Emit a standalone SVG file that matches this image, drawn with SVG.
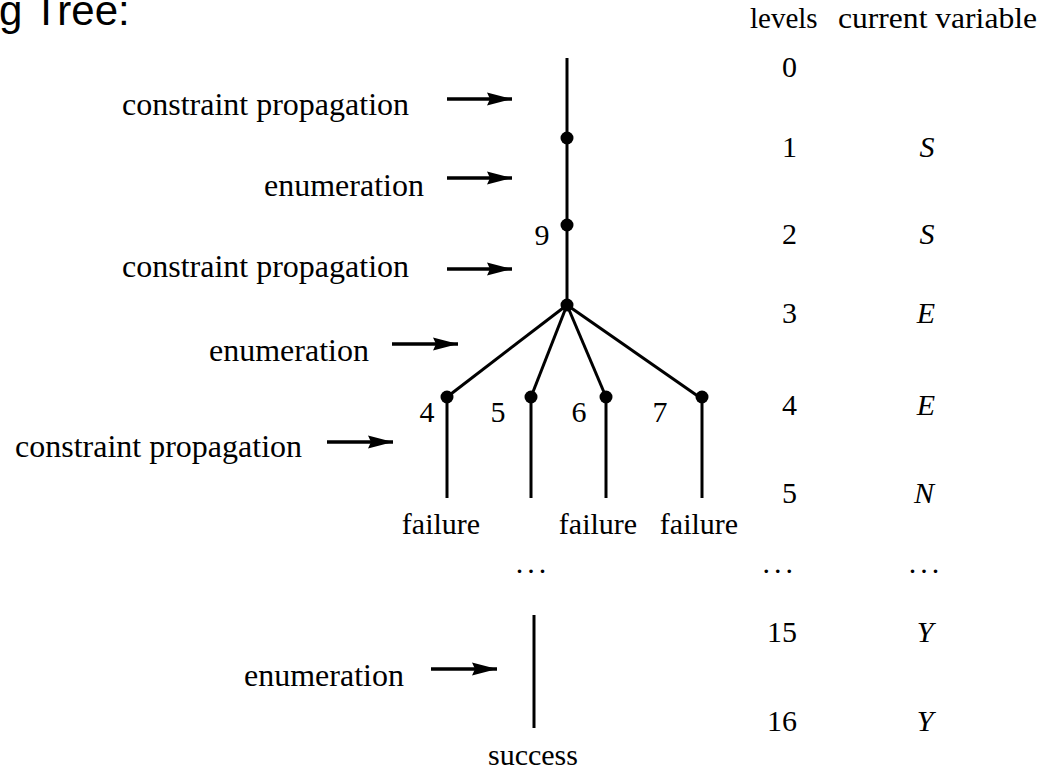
<svg xmlns="http://www.w3.org/2000/svg" width="1043" height="770" viewBox="0 0 1043 770">
<style>
.t{font-family:"Liberation Serif","Times New Roman",serif;fill:#000}
.lbl{font-size:32px}
.s{font-size:30px}
.i{font-size:30px;font-style:italic}
.e{stroke:#000;stroke-width:3;fill:none}
.a{stroke:#000;stroke-width:3.5;fill:none;marker-end:url(#ah)}
.d{fill:#000}
</style>
<defs>
<marker id="ah" markerUnits="userSpaceOnUse" markerWidth="27" markerHeight="16" refX="25" refY="8" orient="auto">
<path d="M0,1.5 L25,8 L0,14.5 L3,8 z" fill="#000"/>
</marker>
</defs>
<rect width="1043" height="770" fill="#fff"/>
<text x="-1" y="25" style="font-family:'Liberation Sans',Arial,sans-serif;font-size:42px">g Tree:</text>

<g id="header">
<text class="t" x="750" y="28" style="font-size:29px">levels</text>
<text class="t" x="838" y="28" textLength="199" lengthAdjust="spacingAndGlyphs" style="font-size:29px">current variable</text>
</g>

<g id="labels">
<text class="t lbl" x="122" y="115">constraint propagation</text>
<text class="t lbl" x="264" y="196">enumeration</text>
<text class="t lbl" x="122" y="277">constraint propagation</text>
<text class="t lbl" x="209" y="361">enumeration</text>
<text class="t lbl" x="15" y="457">constraint propagation</text>
<text class="t lbl" x="244" y="686">enumeration</text>
</g>

<g id="connectors">
<line class="a" x1="447" y1="99" x2="512" y2="99"/>
<line class="a" x1="447" y1="178" x2="512" y2="178"/>
<line class="a" x1="447" y1="269" x2="512" y2="269"/>
<line class="a" x1="392" y1="344" x2="458" y2="344"/>
<line class="a" x1="327" y1="442" x2="393" y2="442"/>
<line class="a" x1="431" y1="669" x2="497" y2="669"/>
<line class="e" x1="567" y1="58" x2="567" y2="305"/>
<line class="e" x1="567" y1="305" x2="447" y2="397"/>
<line class="e" x1="567" y1="305" x2="531" y2="397"/>
<line class="e" x1="567" y1="305" x2="606" y2="397"/>
<line class="e" x1="567" y1="305" x2="702" y2="399"/>
<line class="e" x1="447" y1="397" x2="447" y2="498"/>
<line class="e" x1="531" y1="397" x2="531" y2="498"/>
<line class="e" x1="606" y1="397" x2="606" y2="498"/>
<line class="e" x1="702" y1="397" x2="702" y2="498"/>
<line class="e" x1="534" y1="615" x2="534" y2="728"/>
</g>

<g id="n1"><circle class="d" cx="567" cy="138" r="6.5"/></g>
<g id="n2"><circle class="d" cx="567" cy="225" r="6.5"/><text class="t s" x="542" y="245" text-anchor="middle">9</text></g>
<g id="n3"><circle class="d" cx="567" cy="305" r="6.5"/></g>
<g id="n4"><circle class="d" cx="447" cy="397" r="6.5"/><text class="t s" x="427" y="422" text-anchor="middle">4</text><text class="t s" x="441" y="534" text-anchor="middle">failure</text></g>
<g id="n5"><circle class="d" cx="531" cy="397" r="6.5"/><text class="t s" x="498" y="422" text-anchor="middle">5</text></g>
<g id="n6"><circle class="d" cx="606" cy="397" r="6.5"/><text class="t s" x="579" y="422" text-anchor="middle">6</text><text class="t s" x="598" y="534" text-anchor="middle">failure</text></g>
<g id="n7"><circle class="d" cx="702" cy="397" r="6.5"/><text class="t s" x="660" y="422" text-anchor="middle">7</text><text class="t s" x="699" y="534" text-anchor="middle">failure</text></g>
<g id="dots"><text class="t s" x="533" y="573" text-anchor="middle" letter-spacing="4">...</text></g>
<g id="success"><text class="t s" x="533" y="765" text-anchor="middle">success</text></g>

<g id="levels">
<text class="t s" x="797" y="77" text-anchor="end">0</text>
<text class="t s" x="797" y="157" text-anchor="end">1</text>
<text class="t s" x="797" y="244" text-anchor="end">2</text>
<text class="t s" x="797" y="323" text-anchor="end">3</text>
<text class="t s" x="797" y="415" text-anchor="end">4</text>
<text class="t s" x="797" y="503" text-anchor="end">5</text>
<text class="t s" x="797" y="573" text-anchor="end" letter-spacing="4">...</text>
<text class="t s" x="797" y="642" text-anchor="end">15</text>
<text class="t s" x="797" y="731" text-anchor="end">16</text>
</g>
<g id="variables">
<text class="t i" x="927" y="157" text-anchor="middle">S</text>
<text class="t i" x="927" y="244" text-anchor="middle">S</text>
<text class="t i" x="926" y="323" text-anchor="middle">E</text>
<text class="t i" x="926" y="415" text-anchor="middle">E</text>
<text class="t i" x="924" y="503" text-anchor="middle">N</text>
<text class="t s" x="926" y="573" text-anchor="middle" letter-spacing="4">...</text>
<text class="t i" x="925" y="642" text-anchor="middle">Y</text>
<text class="t i" x="925" y="731" text-anchor="middle">Y</text>
</g>
</svg>
